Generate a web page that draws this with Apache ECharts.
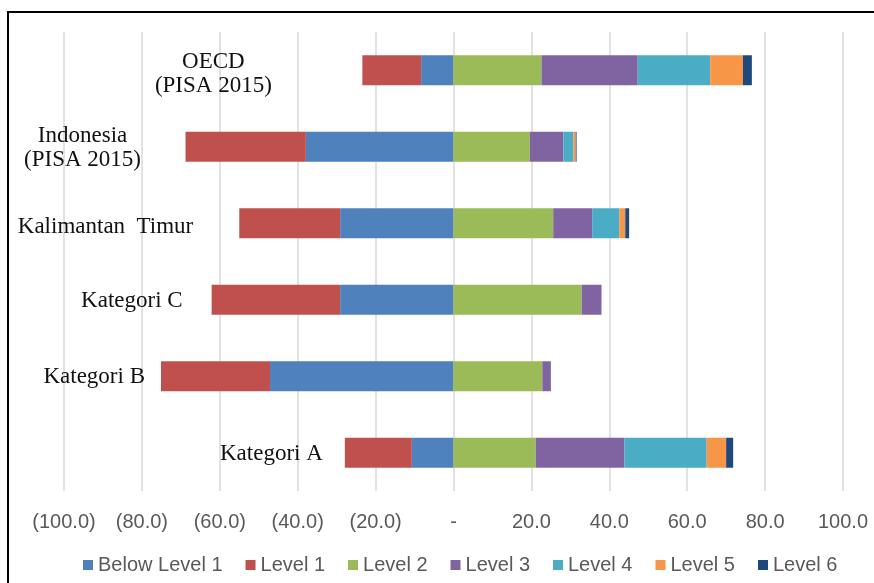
<!DOCTYPE html>
<html>
<head>
<meta charset="utf-8">
<script src="https://cdn.jsdelivr.net/npm/echarts@6/dist/echarts.min.js"></script>
<style>
html,body{margin:0;padding:0;background:#fff;}
#chart{width:874px;height:583px;}
</style>
</head>
<body>
<div id="chart"></div>
<script>
// Categories (bottom to top)
var categories = ['Kategori A', 'Kategori B', 'Kategori C', 'Kalimantan  Timur', 'Indonesia\n(PISA 2015)', 'OECD\n(PISA 2015)'];
// Series values (percent); Below Level 1 and Level 1 are drawn on the negative side
var belowLevel1 = [10.7, 47.1, 29.1, 29.1, 37.9, 8.3];
var level1      = [17.2, 28.0, 33.0, 25.9, 30.9, 15.1];
var level2      = [21.1, 22.8, 32.9, 25.6, 19.6, 22.6];
var level3      = [22.8, 2.2, 5.1, 10.0, 8.6, 24.7];
var level4      = [21.1, 0, 0, 7.0, 2.6, 18.6];
var level5      = [5.0, 0, 0, 1.5, 0.6, 8.4];
var level6      = [1.8, 0, 0, 1.0, 0.2, 2.3];
var seriesNames = ['Below Level 1', 'Level 1', 'Level 2', 'Level 3', 'Level 4', 'Level 5', 'Level 6'];
// Axis ticks
var xMin = -100, xMax = 100, xStep = 20;

// Styles (kept separate from data)
var colors = ['#4F81BD', '#C0504D', '#9BBB59', '#8064A2', '#4BACC6', '#F79646', '#1F497D'];
var catLabelDistance = [22, 16, 29, 46, 103, 149];
var catLabelAlign = ['right', 'right', 'right', 'right', 'center', 'center'];
var catLabelDy = [1, 1, 1, 4, 1, 4];

function fmtTick(v) {
  if (v === 0) return '-';
  if (v < 0) return '(' + Math.abs(v).toFixed(1) + ')';
  return v.toFixed(1);
}

var allValues = [belowLevel1, level1, level2, level3, level4, level5, level6];
var series = allValues.map(function (arr, si) {
  var neg = si < 2;
  var s = {
    name: seriesNames[si],
    type: 'bar',
    stack: 'total',
    barWidth: 30,
    itemStyle: { color: colors[si] },
    data: arr.map(function (v) { return neg ? -v : v; })
  };
  if (si === 1) {
    s.data = arr.map(function (v, i) {
      return {
        value: -v,
        label: {
          show: true,
          position: 'left',
          distance: catLabelDistance[i],
          align: catLabelAlign[i],
          offset: [0, catLabelDy[i]],
          formatter: function () { return categories[i]; }
        }
      };
    });
    s.label = {
      show: true,
      fontFamily: '"Liberation Serif", "Times New Roman", serif',
      fontSize: 23,
      lineHeight: 24,
      color: '#111'
    };
  }
  return s;
});

var chart = echarts.init(document.getElementById('chart'), null, { renderer: 'canvas' });
chart.setOption({
  animation: false,
  backgroundColor: '#fff',
  color: colors,
  grid: { left: 64, right: 31, top: 32, bottom: 92, containLabel: false },
  xAxis: {
    type: 'value',
    min: xMin,
    max: xMax,
    interval: xStep,
    axisLine: { show: false },
    axisTick: { show: false },
    splitLine: { show: true, lineStyle: { color: '#d9d9d9', width: 1.5 } },
    axisLabel: {
      formatter: fmtTick,
      margin: 21,
      color: '#595959',
      fontFamily: '"Liberation Sans", Arial, sans-serif',
      fontSize: 20
    }
  },
  yAxis: {
    type: 'category',
    data: categories,
    axisLine: { show: false },
    axisTick: { show: false },
    axisLabel: { show: false },
    splitLine: { show: false }
  },
  legend: {
    data: seriesNames,
    bottom: 3,
    left: 78,
    itemWidth: 10,
    itemHeight: 10,
    itemGap: 23,
    icon: 'rect',
    textStyle: {
      color: '#595959',
      fontFamily: '"Liberation Sans", Arial, sans-serif',
      fontSize: 20
    }
  },
  graphic: [{
    type: 'rect',
    silent: true,
    shape: { x: 8, y: 12, width: 900, height: 620 },
    style: { fill: null, stroke: '#000', lineWidth: 2 }
  }],
  series: series
});
</script>
</body>
</html>
